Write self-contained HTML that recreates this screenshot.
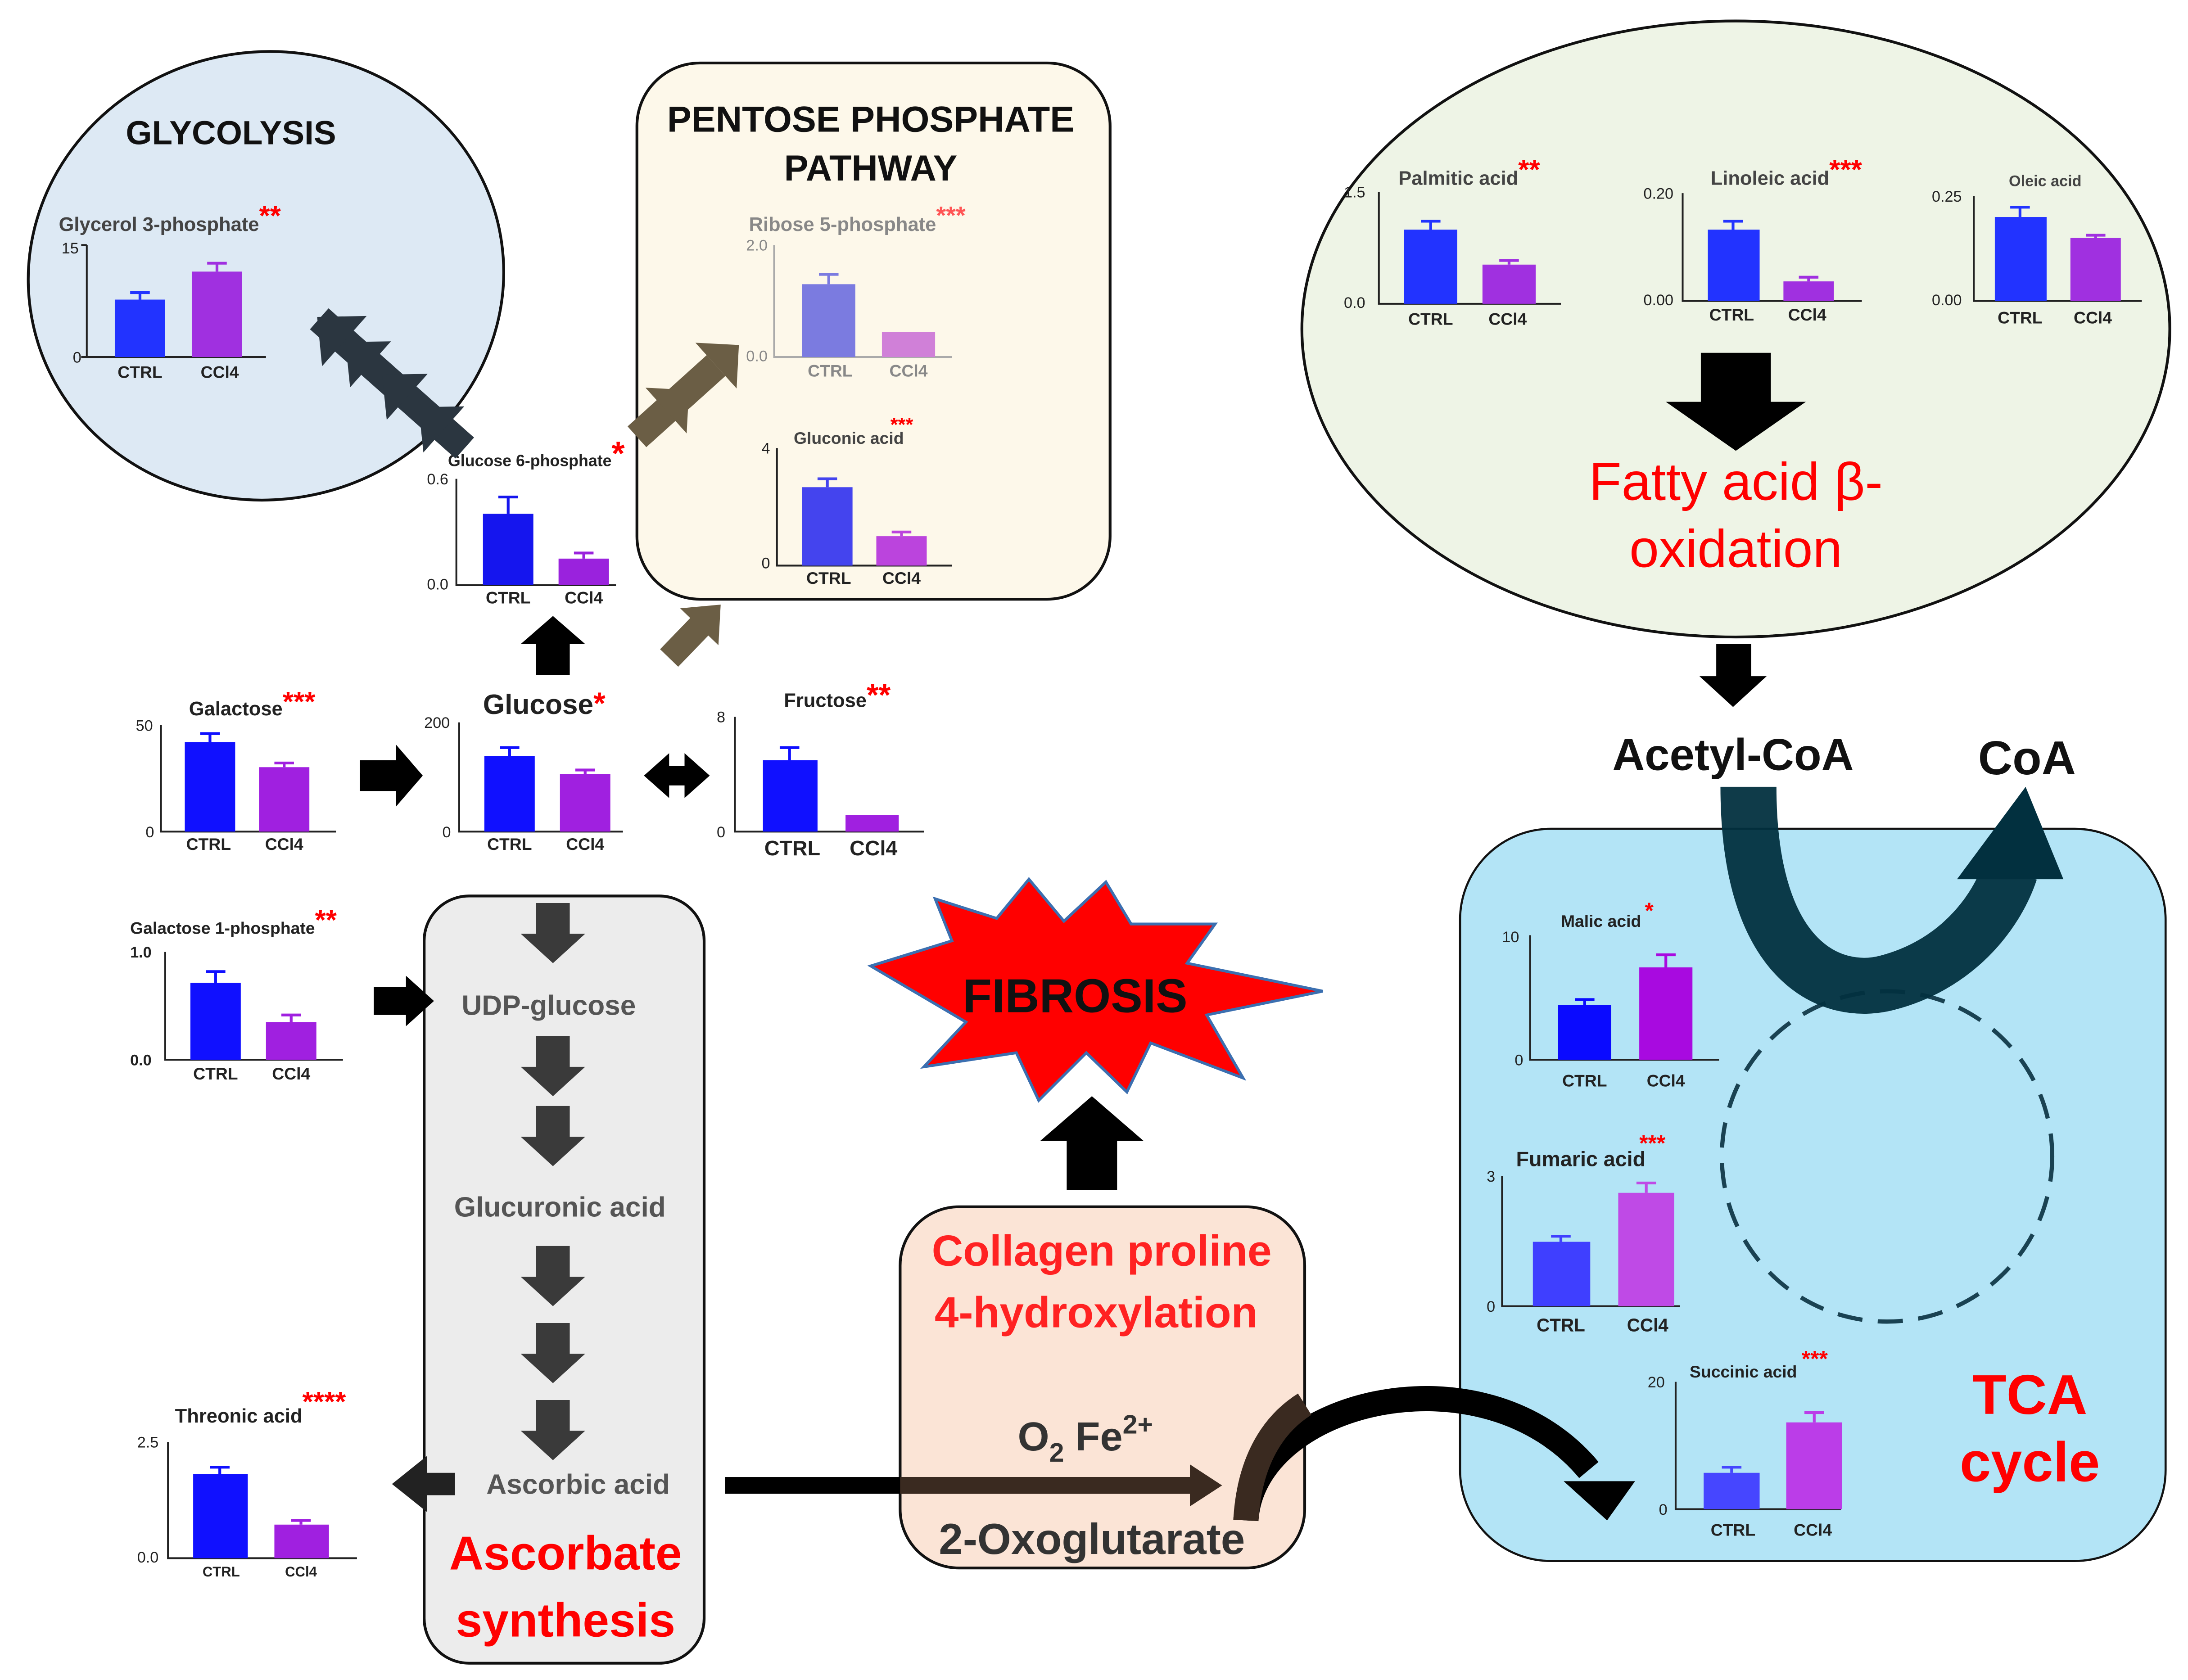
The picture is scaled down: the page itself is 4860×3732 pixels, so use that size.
<!DOCTYPE html>
<html><head><meta charset="utf-8"><style>
html,body{margin:0;padding:0;background:#fff;}
svg{display:block;}
text{font-family:"Liberation Sans",sans-serif;}
.t{font-size:14px;fill:#222;font-weight:bold;}
.k{font-size:11px;fill:#222;}
.l{font-size:12px;fill:#222;font-weight:bold;text-anchor:middle;}
.s{fill:#f00;font-weight:bold;}
.ax{stroke:#222;stroke-width:1.3;fill:none;}
</style></head><body>
<svg width="4860" height="3732" viewBox="0 0 1563 1200" preserveAspectRatio="none" xmlns="http://www.w3.org/2000/svg">
<rect width="1563" height="1200" fill="#fff"/>
<!-- containers -->
<ellipse cx="190" cy="197" rx="170" ry="160" transform="rotate(-8 190 197)" fill="#dde9f4" stroke="#111" stroke-width="2"/>
<rect x="455" y="45" width="338" height="383" rx="45" fill="#fdf8ea" stroke="#111" stroke-width="2"/>
<ellipse cx="1240" cy="235" rx="310" ry="220" fill="#eef4e6" stroke="#111" stroke-width="2"/>
<rect x="1043" y="592" width="504" height="523" rx="65" fill="#b3e4f6" stroke="#111" stroke-width="1.5"/>
<rect x="303" y="640" width="200" height="548" rx="32" fill="#ececec" stroke="#111" stroke-width="2"/>
<rect x="643" y="862" width="289" height="258" rx="42" fill="#fbe4d6" stroke="#111" stroke-width="2"/>

<!-- headings -->
<text x="165" y="103" font-size="24" font-weight="bold" text-anchor="middle" fill="#111">GLYCOLYSIS</text>
<text x="622" y="94" font-size="26" font-weight="bold" text-anchor="middle" fill="#111">PENTOSE PHOSPHATE</text>
<text x="622" y="129" font-size="26" font-weight="bold" text-anchor="middle" fill="#111">PATHWAY</text>
<text x="1240" y="357" font-size="38" text-anchor="middle" fill="#f00">Fatty acid β-</text>
<text x="1240" y="405" font-size="38" text-anchor="middle" fill="#f00">oxidation</text>
<text x="1238" y="550" font-size="32" font-weight="bold" text-anchor="middle" fill="#111">Acetyl-CoA</text>
<text x="1448" y="553" font-size="34" font-weight="bold" text-anchor="middle" fill="#111">CoA</text>
<text x="1450" y="1010" font-size="40" font-weight="bold" text-anchor="middle" fill="#f00">TCA</text>
<text x="1450" y="1058" font-size="40" font-weight="bold" text-anchor="middle" fill="#f00">cycle</text>

<!-- TCA dashed circle and curved arrow -->
<circle cx="1348" cy="826" r="118" fill="none" stroke="#1a4252" stroke-width="3" stroke-dasharray="18 11"/>
<path d="M1249,562 C1249,690 1310,712 1348,702 C1395,690 1425,655 1436,622" fill="none" stroke="#02303f" stroke-width="40" opacity="0.95"/>
<polygon points="1398,628 1474,628 1447,562" fill="#02303f"/>

<!-- fatty arrows -->
<polygon points="1215,252 1265,252 1265,287 1290,287 1240,322 1190,287 1215,287" fill="#000"/>
<polygon points="1226,460 1251,460 1251,483 1262,483 1238,505 1214,483 1226,483" fill="#000"/>

<!-- Charts -->
<text x="42" y="165" class="t" style="fill:#444">Glycerol 3-phosphate<tspan class="s" font-size="20" dy="-4">**</tspan></text>
<path class="ax" d="M62,175V255H190M58,175H62M58,255H62"/><text x="44" y="181" class="k">15</text><text x="52" y="259" class="k">0</text>
<rect x="82" y="214" width="36" height="41" fill="#2233ff"/><path d="M100,214V209M93,209H107" stroke="#2233ff" stroke-width="2"/>
<rect x="137" y="194" width="36" height="61" fill="#a030e0"/><path d="M155,194V188M148,188H162" stroke="#a030e0" stroke-width="2"/>
<text x="100" y="270" class="l">CTRL</text><text x="157" y="270" class="l">CCl4</text>

<text x="320" y="333" class="t" style="font-size:11.5px">Glucose 6-phosphate<tspan class="s" font-size="24" dy="-1">*</tspan></text>
<path class="ax" d="M326,342V418H440"/><text x="305" y="346" class="k">0.6</text><text x="305" y="421" class="k">0.0</text>
<rect x="345" y="367" width="36" height="51" fill="#1515ee"/><path d="M363,367V355M356,355H370" stroke="#1515ee" stroke-width="2"/>
<rect x="399" y="399" width="36" height="19" fill="#9a22dd"/><path d="M417,399V395M410,395H424" stroke="#9a22dd" stroke-width="2"/>
<text x="363" y="431" class="l" font-size="11">CTRL</text><text x="417" y="431" class="l">CCl4</text>

<text x="535" y="165" class="t" style="fill:#888">Ribose 5-phosphate<tspan class="s" font-size="18" style="fill:#f55" dy="-5">***</tspan></text>
<path class="ax" d="M553,175V255H680" style="stroke:#aaa"/><text x="533" y="179" class="k" style="fill:#888">2.0</text><text x="533" y="258" class="k" style="fill:#888">0.0</text>
<rect x="573" y="203" width="38" height="52" fill="#7b7be0"/><path d="M592,203V196M585,196H599" stroke="#7b7be0" stroke-width="2"/>
<rect x="630" y="237" width="38" height="18" fill="#d080d8"/>
<text x="593" y="269" class="l" style="fill:#888">CTRL</text><text x="649" y="269" class="l" style="fill:#888">CCl4</text>

<text x="567" y="317" class="t" style="font-size:12px;fill:#444">Gluconic acid</text><text x="636" y="308" class="s" font-size="14">***</text>
<path class="ax" d="M555,320V404H680"/><text x="544" y="324" class="k">4</text><text x="544" y="406" class="k">0</text>
<rect x="573" y="348" width="36" height="56" fill="#4444ee"/><path d="M591,348V342M584,342H598" stroke="#4444ee" stroke-width="2"/>
<rect x="626" y="383" width="36" height="21" fill="#bb44dd"/><path d="M644,383V380M637,380H651" stroke="#bb44dd" stroke-width="2"/>
<text x="592" y="417" class="l">CTRL</text><text x="644" y="417" class="l">CCl4</text>

<text x="999" y="132" class="t" style="fill:#444">Palmitic acid<tspan class="s" font-size="20" dy="-4">**</tspan></text>
<path class="ax" d="M985,137V217H1115"/><text x="960" y="141" class="k">1.5</text><text x="960" y="220" class="k">0.0</text>
<rect x="1003" y="164" width="38" height="53" fill="#2233ff"/><path d="M1022,164V158M1015,158H1029" stroke="#2233ff" stroke-width="2"/>
<rect x="1059" y="189" width="38" height="28" fill="#a030e0"/><path d="M1078,189V186M1071,186H1085" stroke="#a030e0" stroke-width="2"/>
<text x="1022" y="232" class="l">CTRL</text><text x="1077" y="232" class="l">CCl4</text>

<text x="1222" y="132" class="t" style="fill:#444">Linoleic acid<tspan class="s" font-size="20" dy="-4">***</tspan></text>
<path class="ax" d="M1202,138V215H1330"/><text x="1174" y="142" class="k">0.20</text><text x="1174" y="218" class="k">0.00</text>
<rect x="1220" y="164" width="37" height="51" fill="#2233ff"/><path d="M1238,164V158M1231,158H1245" stroke="#2233ff" stroke-width="2"/>
<rect x="1274" y="201" width="36" height="14" fill="#a030e0"/><path d="M1292,201V198M1285,198H1299" stroke="#a030e0" stroke-width="2"/>
<text x="1237" y="229" class="l">CTRL</text><text x="1291" y="229" class="l">CCl4</text>

<text x="1435" y="133" class="t" style="font-size:11px;fill:#444">Oleic acid</text>
<path class="ax" d="M1410,140V215H1530"/><text x="1380" y="144" class="k">0.25</text><text x="1380" y="218" class="k">0.00</text>
<rect x="1425" y="155" width="37" height="60" fill="#2233ff"/><path d="M1443,155V148M1436,148H1450" stroke="#2233ff" stroke-width="2"/>
<rect x="1479" y="170" width="36" height="45" fill="#a030e0"/><path d="M1497,170V168M1490,168H1504" stroke="#a030e0" stroke-width="2"/>
<text x="1443" y="231" class="l">CTRL</text><text x="1495" y="231" class="l">CCl4</text>

<text x="135" y="511" class="t">Galactose<tspan class="s" font-size="20" dy="-3">***</tspan></text>
<path class="ax" d="M115,518V594H240"/><text x="97" y="522" class="k">50</text><text x="104" y="598" class="k">0</text>
<rect x="132" y="530" width="36" height="64" fill="#1010ff"/><path d="M150,530V524M143,524H157" stroke="#1010ff" stroke-width="2"/>
<rect x="185" y="548" width="36" height="46" fill="#a020e0"/><path d="M203,548V545M196,545H210" stroke="#a020e0" stroke-width="2"/>
<text x="149" y="607" class="l">CTRL</text><text x="203" y="607" class="l">CCl4</text>

<text x="345" y="510" font-size="20" font-weight="bold" fill="#222">Glucose<tspan class="s" font-size="22">*</tspan></text>
<path class="ax" d="M328,516V594H445"/><text x="303" y="520" class="k">200</text><text x="316" y="598" class="k">0</text>
<rect x="346" y="540" width="36" height="54" fill="#1010ff"/><path d="M364,540V534M357,534H371" stroke="#1010ff" stroke-width="2"/>
<rect x="400" y="553" width="36" height="41" fill="#a020e0"/><path d="M418,553V550M411,550H425" stroke="#a020e0" stroke-width="2"/>
<text x="364" y="607" class="l">CTRL</text><text x="418" y="607" class="l">CCl4</text>

<text x="560" y="505" class="t" style="font-size:14px">Fructose<tspan class="s" font-size="22" dy="-1">**</tspan></text>
<path class="ax" d="M525,512V594H660"/><text x="512" y="516" class="k">8</text><text x="512" y="598" class="k">0</text>
<rect x="545" y="543" width="39" height="51" fill="#1010ff"/><path d="M564,543V534M557,534H571" stroke="#1010ff" stroke-width="2"/>
<rect x="604" y="582" width="38" height="12" fill="#a020e0"/>
<text x="566" y="611" class="l" style="font-size:15px">CTRL</text><text x="624" y="611" class="l" style="font-size:15px">CCl4</text>

<text x="93" y="667" class="t" style="font-size:12px">Galactose 1-phosphate<tspan class="s" font-size="20" dy="-3">**</tspan></text>
<path class="ax" d="M118,680V757H245"/><text x="93" y="684" class="k" font-weight="bold">1.0</text><text x="93" y="761" class="k" font-weight="bold">0.0</text>
<rect x="136" y="702" width="36" height="55" fill="#1010ff"/><path d="M154,702V694M147,694H161" stroke="#1010ff" stroke-width="2"/>
<rect x="190" y="730" width="36" height="27" fill="#a020e0"/><path d="M208,730V725M201,725H215" stroke="#a020e0" stroke-width="2"/>
<text x="154" y="771" class="l">CTRL</text><text x="208" y="771" class="l">CCl4</text>

<text x="125" y="1016" class="t" style="font-size:14px">Threonic acid<tspan class="s" font-size="20" dy="-8">****</tspan></text>
<path class="ax" d="M120,1030V1113H255"/><text x="98" y="1034" class="k">2.5</text><text x="98" y="1116" class="k">0.0</text>
<rect x="138" y="1053" width="39" height="60" fill="#1010ff"/><path d="M157,1053V1048M150,1048H164" stroke="#1010ff" stroke-width="2"/>
<rect x="196" y="1089" width="39" height="24" fill="#a020e0"/><path d="M215,1089V1086M208,1086H222" stroke="#a020e0" stroke-width="2"/>
<text x="158" y="1126" class="l" style="font-size:10px">CTRL</text><text x="215" y="1126" class="l" style="font-size:10px">CCl4</text>

<text x="1115" y="662" class="t" style="font-size:12px">Malic acid</text><text x="1175" y="656" class="s" font-size="16">*</text>
<path class="ax" d="M1093,668V757H1228"/><text x="1073" y="673" class="k">10</text><text x="1082" y="761" class="k">0</text>
<rect x="1113" y="718" width="38" height="39" fill="#0a0aff"/><path d="M1132,718V714M1125,714H1139" stroke="#0a0aff" stroke-width="2"/>
<rect x="1171" y="691" width="38" height="66" fill="#a80ae0"/><path d="M1190,691V682M1183,682H1197" stroke="#a80ae0" stroke-width="2"/>
<text x="1132" y="776" class="l">CTRL</text><text x="1190" y="776" class="l">CCl4</text>

<text x="1083" y="833" class="t" style="font-size:15px">Fumaric acid</text><text x="1171" y="822" class="s" font-size="16">***</text>
<path class="ax" d="M1073,840V933H1200"/><text x="1062" y="844" class="k">3</text><text x="1062" y="937" class="k">0</text>
<rect x="1095" y="887" width="41" height="46" fill="#3f3fff"/><path d="M1115,887V883M1108,883H1122" stroke="#3f3fff" stroke-width="2"/>
<rect x="1156" y="852" width="40" height="81" fill="#bf4ae6"/><path d="M1176,852V845M1169,845H1183" stroke="#bf4ae6" stroke-width="2"/>
<text x="1115" y="951" class="l" style="font-size:13px">CTRL</text><text x="1177" y="951" class="l" style="font-size:13px">CCl4</text>

<text x="1207" y="984" class="t" style="font-size:12px">Succinic acid</text><text x="1287" y="976" class="s" font-size="16">***</text>
<path class="ax" d="M1197,987V1078H1315"/><text x="1177" y="991" class="k">20</text><text x="1185" y="1082" class="k">0</text>
<rect x="1217" y="1052" width="40" height="26" fill="#4646ff"/><path d="M1237,1052V1048M1230,1048H1244" stroke="#4646ff" stroke-width="2"/>
<rect x="1276" y="1016" width="40" height="62" fill="#bb3de8"/><path d="M1296,1016V1009M1289,1009H1303" stroke="#bb3de8" stroke-width="2"/>
<text x="1238" y="1097" class="l">CTRL</text><text x="1295" y="1097" class="l">CCl4</text>

<!-- Block arrows -->
<polygon points="257,543 283,543 283,532 302,554 283,576 283,565 257,565" fill="#000"/>
<polygon points="460,554 478,538 478,547 489,547 489,538 507,554 489,570 489,561 478,561 478,570" fill="#000"/>
<polygon points="383,482 383,460 372,460 395,440 418,460 407,460 407,482" fill="#000"/>
<polygon points="267,705 290,705 290,697 310,715 290,733 290,725 267,725" fill="#000"/>
<polygon points="325,1052 305,1052 305,1040 280,1060 305,1080 305,1068 325,1068" fill="#222"/>
<g transform="translate(478,470) rotate(-46)"><polygon points="0,-9 31,-9 31,-19 53,0 31,19 31,9 0,9" fill="#6b5e45"/></g>
<g transform="translate(455,312) rotate(-42)"><polygon points="0,-10 76,-10 76,10 0,10" fill="#6b5e45"/><polygon points="28,-22 50,0 28,22" fill="#6b5e45"/><polygon points="76,-22 98,0 76,22" fill="#6b5e45"/></g>
<g transform="translate(332,320) rotate(221.6)"><polygon points="0,-10 139,-10 139,10 0,10" fill="#2b3640"/><polygon points="20,-22 44,0 20,22" fill="#2b3640"/><polygon points="55,-22 79,0 55,22" fill="#2b3640"/><polygon points="90,-22 114,0 90,22" fill="#2b3640"/><polygon points="115,-24 141,0 115,24" fill="#2b3640"/></g>

<!-- ascorbate box arrows -->
<g fill="#3a3a3a">
<polygon points="383,645 407,645 407,667 418,667 395,688 372,667 383,667"/>
<polygon points="383,740 407,740 407,762 418,762 395,783 372,762 383,762"/>
<polygon points="383,790 407,790 407,812 418,812 395,833 372,812 383,812"/>
<polygon points="383,890 407,890 407,912 418,912 395,933 372,912 383,912"/>
<polygon points="383,945 407,945 407,967 418,967 395,988 372,967 383,967"/>
<polygon points="383,1000 407,1000 407,1022 418,1022 395,1043 372,1022 383,1022"/>
</g>
<text x="392" y="725" font-size="20" font-weight="bold" text-anchor="middle" fill="#555">UDP-glucose</text>
<text x="400" y="869" font-size="20" font-weight="bold" text-anchor="middle" fill="#555">Glucuronic acid</text>
<text x="413" y="1067" font-size="20" font-weight="bold" text-anchor="middle" fill="#555">Ascorbic acid</text>
<text x="404" y="1121" font-size="34" font-weight="bold" text-anchor="middle" fill="#f00">Ascorbate</text>
<text x="404" y="1169" font-size="34" font-weight="bold" text-anchor="middle" fill="#f00">synthesis</text>

<!-- fibrosis star -->
<polygon points="622,690 680,672 668,642 712,656 735,628 760,658 790,630 808,660 868,660 848,688 945,708 862,725 888,770 822,745 805,780 776,752 742,786 726,752 660,762 690,730" fill="#f00" stroke="#3b6fb0" stroke-width="2"/>
<text x="768" y="723" font-size="34" font-weight="bold" text-anchor="middle" fill="#111">FIBROSIS</text>
<polygon points="762,850 798,850 798,815 817,815 780,783 743,815 762,815" fill="#000"/>

<!-- collagen box -->
<text x="787" y="904" font-size="31" font-weight="bold" text-anchor="middle" fill="#f22">Collagen proline</text>
<text x="783" y="948" font-size="31" font-weight="bold" text-anchor="middle" fill="#f22">4-hydroxylation</text>
<text x="727" y="1036" font-size="29" font-weight="bold" fill="#333">O<tspan font-size="19" dy="8">2</tspan><tspan dy="-8" dx="8">Fe</tspan><tspan font-size="19" dy="-12">2+</tspan></text>
<text x="780" y="1110" font-size="31" font-weight="bold" text-anchor="middle" fill="#333">2-Oxoglutarate</text>
<rect x="518" y="1055" width="340" height="12" fill="#000"/>
<rect x="643" y="1055" width="215" height="12" fill="#3a2a20"/>
<polygon points="850,1046 873,1061 850,1076" fill="#3a2a20"/>
<path d="M890,1086 C895,1000 1060,960 1135,1050" fill="none" stroke="#000" stroke-width="18"/>
<path d="M890,1086 C892,1050 905,1020 932,1003" fill="none" stroke="#3a2a20" stroke-width="18"/>
<polygon points="1117,1058 1168,1058 1148,1086" fill="#000"/>
</svg>
</body></html>
